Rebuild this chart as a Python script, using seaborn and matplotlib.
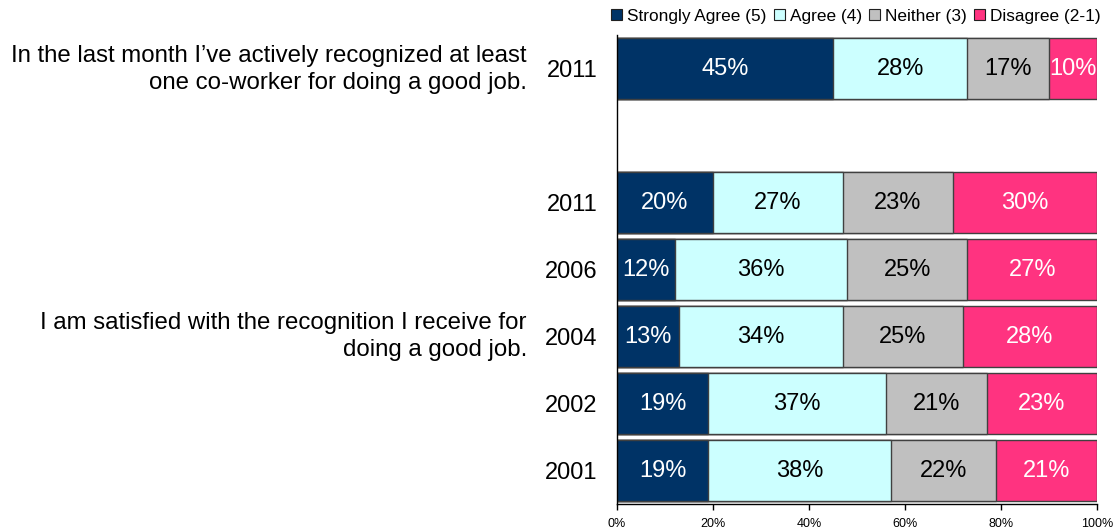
import numpy as np
import pandas as pd
import matplotlib
matplotlib.use("Agg")
import matplotlib.pyplot as plt
from matplotlib.patches import Patch
import seaborn as sns

# Survey rows (top to bottom); the empty slot separates the two questions
row_ids = ["q1_2011", "gap", "q2_2011", "q2_2006", "q2_2004", "q2_2002", "q2_2001"]
row_labels = ["2011", "", "2011", "2006", "2004", "2002", "2001"]

categories = ["Strongly Agree (5)", "Agree (4)", "Neither (3)", "Disagree (2-1)"]
strongly_agree = [45, np.nan, 20, 12, 13, 19, 19]
agree = [28, np.nan, 27, 36, 34, 37, 38]
neither = [17, np.nan, 23, 25, 25, 21, 22]
disagree = [10, np.nan, 30, 27, 28, 23, 21]

questions = [
    "In the last month I\u2019ve actively recognized at least\none co-worker for doing a good job.",
    "I am satisfied with the recognition I receive for\ndoing a good job.",
]
question_rows = [0.02, 4.0]

tick_values = [0, 20, 40, 60, 80, 100]
tick_labels = ["0%", "20%", "40%", "60%", "80%", "100%"]

colors = ["#003366", "#CCFFFF", "#C0C0C0", "#FF3380"]
text_colors = ["white", "black", "black", "white"]

sns.set_theme(style="white")
plt.rcParams["font.family"] = ["Liberation Sans", "DejaVu Sans"]
plt.rcParams["text.color"] = "black"
plt.rcParams["xtick.color"] = "black"
plt.rcParams["ytick.color"] = "black"

df = pd.DataFrame({
    "row": row_ids,
    categories[0]: strongly_agree,
    categories[1]: agree,
    categories[2]: neither,
    categories[3]: disagree,
})
series = df[categories].to_numpy(dtype=float)
cum = np.cumsum(series, axis=1)

fig = plt.figure(figsize=(11.17, 5.31), dpi=100)
ax = fig.add_axes([617 / 1117, 27 / 531, 480 / 1117, 469 / 531])

# Stacked bars: draw cumulative totals from the widest down
for k in range(len(categories) - 1, -1, -1):
    sns.barplot(x=cum[:, k], y=df["row"], order=row_ids, orient="h",
                color=colors[k], saturation=1, width=0.91,
                edgecolor="#404040", linewidth=1.0, ax=ax)

# Value labels centred in each segment
for i in range(len(row_ids)):
    for k in range(len(categories)):
        v = series[i, k]
        if np.isnan(v):
            continue
        center = cum[i, k] - v / 2
        ax.text(center, i, f"{int(v)}%", ha="center", va="center",
                fontsize=17, color=text_colors[k])

ax.set_xlim(0, 100)
ax.set_ylim(len(row_ids) - 0.5, -0.5)
ax.set_xticks(tick_values)
ax.set_xticklabels(tick_labels, fontsize=9)
ax.set_yticks(range(len(row_ids)))
ax.set_yticklabels(row_labels, fontsize=17)
ax.set_xlabel("")
ax.set_ylabel("")
ax.tick_params(axis="y", length=0, pad=14)
ax.tick_params(axis="x", length=4, width=1, color="black", direction="out", pad=6, bottom=True)

for side in ["top", "right"]:
    ax.spines[side].set_visible(False)
for side in ["left", "bottom"]:
    ax.spines[side].set_visible(True)
    ax.spines[side].set_color("black")
    ax.spines[side].set_linewidth(1.0)

# Question text to the left of the year labels
for q, r in zip(questions, question_rows):
    ax.text(-0.188, r, q, transform=ax.get_yaxis_transform(), ha="right",
            va="center", fontsize=17.3, linespacing=1.3, color="black")

handles = [Patch(facecolor=c, edgecolor="#202020", linewidth=0.8) for c in colors]
fig.legend(handles, categories, loc="center", bbox_to_anchor=(856 / 1117, 1 - 16 / 531),
           ncol=4, frameon=False, fontsize=12.4, handlelength=0.65, handleheight=0.65,
           handletextpad=0.3, columnspacing=0.4, borderpad=0.2)

fig.savefig("out.png", dpi=100)
